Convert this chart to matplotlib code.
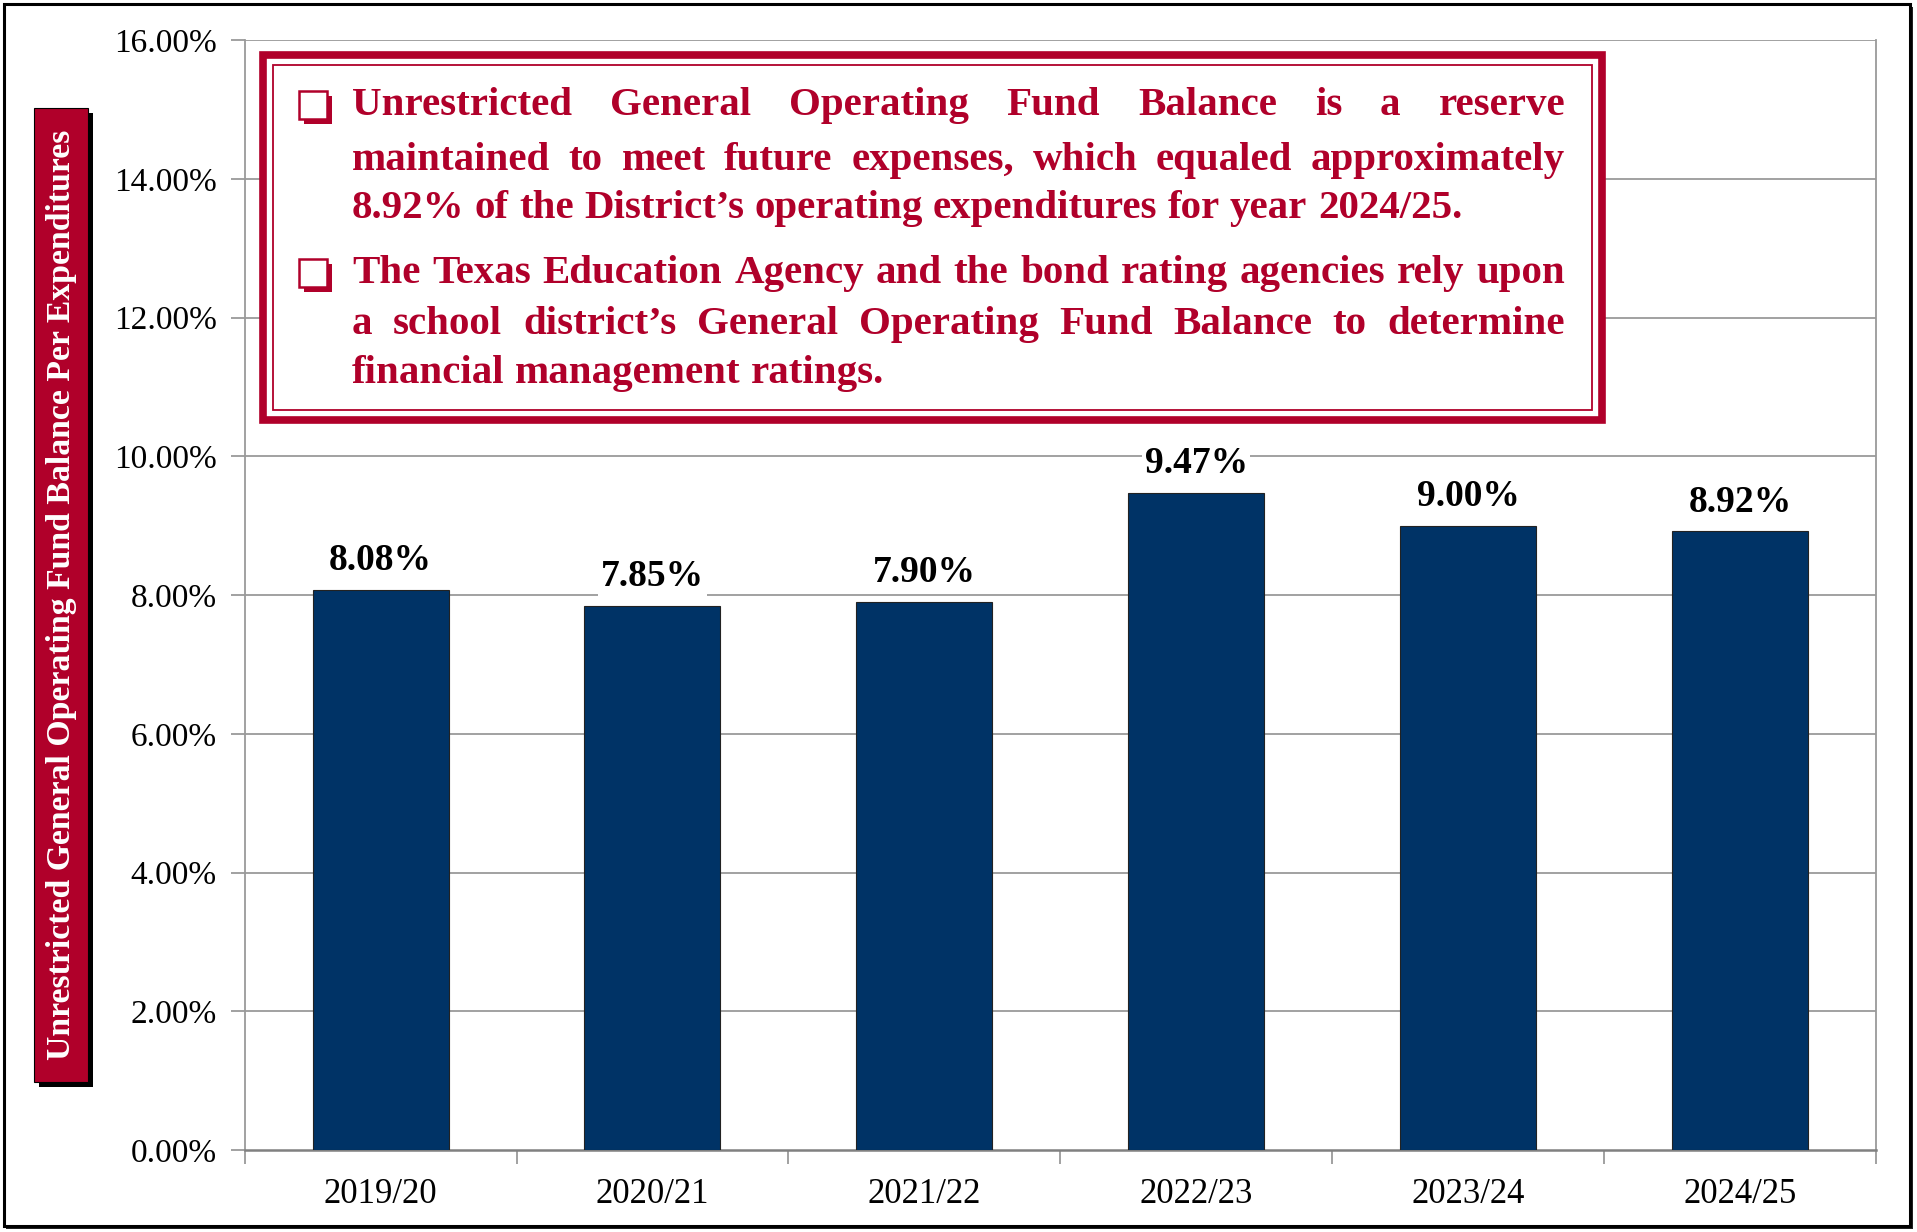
import matplotlib
matplotlib.use("Agg")
import matplotlib.pyplot as plt
from matplotlib.patches import Rectangle

# data
years = ["2019/20", "2020/21", "2021/22", "2022/23", "2023/24", "2024/25"]
balance_pct = [8.08, 7.85, 7.90, 9.47, 9.00, 8.92]
yticks = [0, 2, 4, 6, 8, 10, 12, 14, 16]
ylabel_text = "Unrestricted General Operating Fund Balance Per Expenditures"
note_lines = [
    # (text, justified, has bullet)
    ("Unrestricted General Operating Fund Balance is a reserve", True, True),
    ("maintained to meet future expenses, which equaled approximately", True, False),
    ("8.92% of the District\u2019s operating expenditures for year 2024/25.", False, False),
    ("The Texas Education Agency and the bond rating agencies rely upon", True, True),
    ("a school district\u2019s General Operating Fund Balance to determine", True, False),
    ("financial management ratings.", False, False),
]
note_y = [0.914, 0.870, 0.831, 0.778, 0.737, 0.697]

RED = "#B0002A"
NAVY = "#003366"
GRID = "#9a9a9a"
SERIF = "Liberation Serif"
NOTE_SIZE = 29.5

W, H = 1917, 1232
fig = plt.figure(figsize=(W / 100, H / 100), dpi=100)
fig.patch.set_facecolor("white")

# outer frame with a little shadow
fig.patches.append(Rectangle((6 / W, 1 - 1229 / H), 1907 / W, 1222 / H, transform=fig.transFigure,
                             facecolor="#222222", edgecolor="none", zorder=-2))
fig.patches.append(Rectangle((4 / W, 1 - 1226 / H), 1906 / W, 1222 / H, transform=fig.transFigure,
                             facecolor="white", edgecolor="black", linewidth=2.2, zorder=-1))

ax = fig.add_axes([0.1276, 0.0665, 0.851, 0.9008])
ax.set_facecolor("none")
x = range(len(years))
ax.bar(x, balance_pct, width=0.5, color=NAVY, edgecolor="#222222", linewidth=0.8, zorder=3)
ax.set_xlim(-0.5, len(years) - 0.5)
ax.set_ylim(0, 16)

for t in yticks[1:]:
    ax.axhline(t, color=GRID, linewidth=1.3, zorder=1)

ax.set_yticks(yticks)
ax.set_yticklabels([f"{t:.2f}%" for t in yticks], fontfamily=SERIF, fontsize=24)
ax.set_xticks(list(x))
ax.set_xticklabels(years, fontfamily=SERIF, fontsize=25)
ax.set_xticks([i - 0.5 for i in range(len(years) + 1)], minor=True)
ax.tick_params(axis="x", which="major", length=0, pad=20)
ax.tick_params(axis="x", which="minor", length=10, width=1.3, color=GRID, direction="out")
ax.tick_params(axis="y", length=10, width=1.3, color=GRID, direction="out", pad=10)
for s in ["left", "bottom", "right"]:
    ax.spines[s].set_color(GRID)
    ax.spines[s].set_linewidth(1.3)
ax.spines["top"].set_visible(False)
ax.spines["bottom"].set_color("#808080")
ax.spines["bottom"].set_linewidth(1.8)

for i, v in enumerate(balance_pct):
    ax.text(i, v + 0.17, f"{v:.2f}%", ha="center", va="bottom", fontfamily=SERIF,
            fontweight="bold", fontsize=27, zorder=4,
            bbox=dict(facecolor="white", edgecolor="none", pad=2))

# y label in red box with black shadow
lx0, lx1 = 34 / W, 88 / W
ly0, ly1 = 1 - 1082 / H, 1 - 108 / H
fig.patches.append(Rectangle((lx0 + 5 / W, ly0 - 5 / H), lx1 - lx0, ly1 - ly0, transform=fig.transFigure,
                             facecolor="black", edgecolor="none", zorder=5))
fig.patches.append(Rectangle((lx0, ly0), lx1 - lx0, ly1 - ly0, transform=fig.transFigure,
                             facecolor=RED, edgecolor="black", linewidth=0.8, zorder=6))
fig.text((lx0 + lx1) / 2 + 1 / W, (ly0 + ly1) / 2, ylabel_text, rotation=90, ha="center", va="center",
         color="white", fontfamily=SERIF, fontweight="bold", fontsize=24.3, zorder=7)

# note box, double border
bx0, bx1 = 263 / W, 1602 / W
by0, by1 = 1 - 420 / H, 1 - 55 / H
fig.patches.append(Rectangle((bx0, by0), bx1 - bx0, by1 - by0, transform=fig.transFigure,
                             facecolor="white", edgecolor=RED, linewidth=5.5, zorder=5))
fig.patches.append(Rectangle((bx0 + 10 / W, by0 + 10 / H), bx1 - bx0 - 20 / W, by1 - by0 - 20 / H,
                             transform=fig.transFigure, facecolor="none", edgecolor=RED,
                             linewidth=1.3, zorder=6))

tx0, tx1 = 352 / W, 1565 / W
fig.canvas.draw()
renderer = fig.canvas.get_renderer()
for (line, justify, bullet), yy in zip(note_lines, note_y):
    if bullet:
        # shadowed square bullet
        sx, sy, ss = 299 / W, yy - 13 / H, 28
        fig.patches.append(Rectangle((sx + 5 / W, sy - 5 / H), ss / W, ss / H, transform=fig.transFigure,
                                     facecolor=RED, edgecolor="none", zorder=6))
        fig.patches.append(Rectangle((sx, sy), ss / W, ss / H, transform=fig.transFigure,
                                     facecolor="white", edgecolor=RED, linewidth=1.8, zorder=7))
    words = line.split(" ")
    texts = [fig.text(tx0, yy, w, ha="left", va="center", color=RED, fontfamily=SERIF,
                      fontweight="bold", fontsize=NOTE_SIZE, zorder=7) for w in words]
    widths = [t.get_window_extent(renderer).width / W for t in texts]
    if justify and len(words) > 1:
        gap = (tx1 - tx0 - sum(widths)) / (len(words) - 1)
    else:
        sp = fig.text(0, 0, "a b", fontfamily=SERIF, fontweight="bold", fontsize=NOTE_SIZE)
        ab = fig.text(0, 0, "ab", fontfamily=SERIF, fontweight="bold", fontsize=NOTE_SIZE)
        gap = (sp.get_window_extent(renderer).width - ab.get_window_extent(renderer).width) / W
        sp.remove()
        ab.remove()
    xpos = tx0
    for t, w in zip(texts, widths):
        t.set_x(xpos)
        xpos += w + gap

fig.savefig("out.png", dpi=100)
